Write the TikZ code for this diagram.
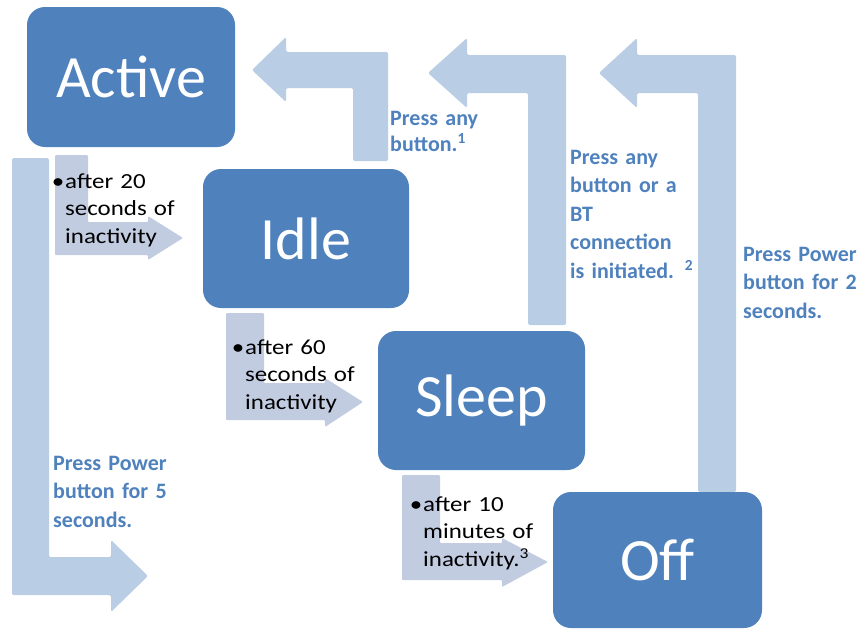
\documentclass[tikz,border=0pt]{standalone}
\usepackage{fontspec}
\setmainfont{Carlito}
\newfontfamily\notefont[FakeStretch=1.16]{Carlito}
\definecolor{boxblue}{HTML}{4F81BD}
\definecolor{arrowblue}{HTML}{B9CDE5}
\definecolor{arrowgray}{HTML}{C2CCE1}
\begin{document}
\begin{tikzpicture}[x=1pt,y=-1pt,
  state/.style={rectangle, rounded corners=18pt, fill=boxblue, text=white,
    font=\fontsize{60}{72}\selectfont, inner sep=0},
  blockarrow/.style={fill=arrowblue, rounded corners=1.5pt},
  softarrow/.style={fill=arrowgray, rounded corners=1pt},
  bluelabel/.style={anchor=base west, inner sep=0, text=boxblue, align=left,
    text width=130pt, font=\bfseries\fontsize{22}{28.5}\selectfont},
  note/.style={anchor=base west, inner sep=0, align=left, text width=140pt,
    font=\notefont\fontsize{21.5}{27.5}\selectfont}]
\useasboundingbox (0,0) rectangle (866,629);

% transition arrows (light grey-blue, under the notes)
\fill[softarrow] (55,155) -- (88,155) -- (88,222) -- (148,222) -- (148,216) -- (183,238) -- (148,260) -- (148,255) -- (55,255) -- cycle;
\fill[softarrow] (226,313) -- (264,313) -- (264,383) -- (325,383) -- (325,378) -- (363,402) -- (325,427) -- (325,420) -- (226,420) -- cycle;
\fill[softarrow] (402,475) -- (440,475) -- (440,543) -- (502,543) -- (502,538) -- (548,562) -- (502,587) -- (502,580) -- (402,580) -- cycle;

% wake-up arrows
\fill[blockarrow] (353,161) -- (353,88) -- (286,88) -- (286,102) -- (252,70) -- (286,37) -- (286,52) -- (388,52) -- (388,161) -- cycle;
\fill[blockarrow] (528,325) -- (528,93) -- (467,93) -- (467,108) -- (428,73) -- (467,38) -- (467,55) -- (566,55) -- (566,325) -- cycle;
\fill[blockarrow] (698,492) -- (698,93) -- (637,93) -- (637,108) -- (599,73) -- (637,38) -- (637,55) -- (736,55) -- (736,492) -- cycle;
\fill[blockarrow] (12,158) -- (49,158) -- (49,557) -- (111,557) -- (111,540) -- (148,576) -- (111,612) -- (111,595) -- (12,595) -- cycle;

% states
\node[state, minimum width=208pt, minimum height=140pt] (active) at (131,77) {Active};
\node[state, minimum width=206pt, minimum height=139pt] (idle) at (306,238.5) {Idle};
\node[state, minimum width=207pt, minimum height=139pt] (sleep) at (481.5,400.5) {Sleep};
\node[state, minimum width=209pt, minimum height=136pt] (off) at (657.5,560) {Off};

% blue labels
\node[bluelabel, font=\bfseries\fontsize{22}{26}\selectfont] (l1) at (390,125) {Press any\\button.\textsuperscript{1}};
\node[bluelabel] (l2) at (570,164) {Press any\\button or a\\BT\\connection\\is initiated. \textsuperscript{2}};
\node[bluelabel] (l3) at (743,261) {Press Power\\button for 2\\seconds.};
\node[bluelabel] (l4) at (53,470) {Press Power\\button for 5\\seconds.};

% notes
\node[note] (n1) at (65,188) {\llap{\textbullet\hspace{1pt}}after 20\\seconds of\\inactivity};
\node[note] (n2) at (245,354) {\llap{\textbullet\hspace{1pt}}after 60\\seconds of\\inactivity};
\node[note] (n3) at (423,511) {\llap{\textbullet\hspace{1pt}}after 10\\minutes of\\inactivity.\textsuperscript{3}};
\end{tikzpicture}
\end{document}
